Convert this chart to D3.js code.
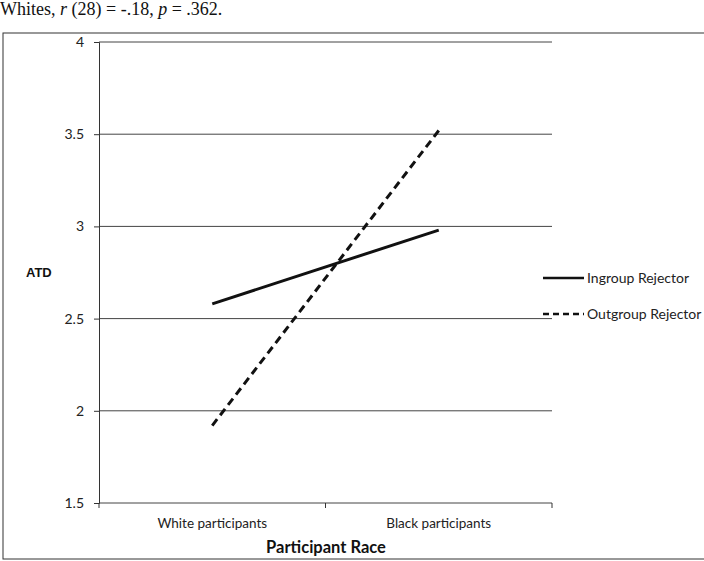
<!DOCTYPE html>
<html>
<head>
<meta charset="utf-8">
<script src="https://cdn.jsdelivr.net/npm/d3@7"></script>
<style>
  body { margin: 0; background: #fff; }
  svg { display: block; }
</style>
</head>
<body>
<div id="chart"></div>
<script>
// chart data
const categories = ["White participants", "Black participants"];
const seriesNames = ["Ingroup Rejector", "Outgroup Rejector"];
const ingroupValues = [2.58, 2.98];
const outgroupValues = [1.92, 3.52];
const yTicks = [1.5, 2, 2.5, 3, 3.5, 4];
const yTickLabels = ["1.5", "2", "2.5", "3", "3.5", "4"];

const W = 704, H = 561;
const svg = d3.select("#chart").append("svg")
    .attr("width", W).attr("height", H);

const font = "Lato, 'Open Sans', sans-serif";

// caption line from the page above the figure
const cap = svg.append("text")
    .attr("x", 0).attr("y", 15)
    .style("font-family", "'Liberation Serif', serif")
    .style("font-size", "18px")
    .attr("fill", "#111");
cap.append("tspan").text("Whites, ");
cap.append("tspan").style("font-style", "italic").text("r");
cap.append("tspan").text(" (28) = -.18, ");
cap.append("tspan").style("font-style", "italic").text("p");
cap.append("tspan").text(" = .362.");

// outer chart border
svg.append("rect")
    .attr("x", 3).attr("y", 33)
    .attr("width", W + 5).attr("height", 526)
    .attr("fill", "none").attr("stroke", "#333").attr("stroke-width", 1);

const plot = { left: 99, right: 552, top: 42, bottom: 503 };

const x = d3.scaleBand()
    .domain(categories)
    .range([plot.left, plot.right]);

const y = d3.scaleLinear()
    .domain([1.5, 4])
    .range([plot.bottom, plot.top]);

// gridlines
svg.append("g").selectAll("line")
    .data(yTicks)
    .join("line")
    .attr("x1", plot.left).attr("x2", plot.right)
    .attr("y1", d => y(d)).attr("y2", d => y(d))
    .attr("stroke", "#444").attr("stroke-width", 1);

// y axis
const yAxis = svg.append("g")
    .attr("transform", `translate(${plot.left},0)`)
    .call(d3.axisLeft(y).tickValues(yTicks)
        .tickFormat((d, i) => yTickLabels[i]).tickSize(5).tickPadding(10));
yAxis.select(".domain").attr("stroke", "#333");
yAxis.selectAll(".tick line").attr("stroke", "#333");
yAxis.selectAll("text")
    .style("font-family", font).style("font-size", "14px").attr("fill", "#222");

// x axis
const xAxis = svg.append("g")
    .attr("transform", `translate(0,${plot.bottom})`)
    .call(d3.axisBottom(x).tickSize(0).tickPadding(15));
xAxis.select(".domain").remove();
xAxis.selectAll("text")
    .style("font-family", font).style("font-size", "13.5px").attr("fill", "#222");

// x axis tick marks between categories
const bounds = [x(categories[0]), x(categories[1]), x(categories[1]) + x.bandwidth()];
svg.append("g").selectAll("line")
    .data(bounds)
    .join("line")
    .attr("x1", d => d).attr("x2", d => d)
    .attr("y1", plot.bottom).attr("y2", plot.bottom + 5)
    .attr("stroke", "#333");

// axis titles
svg.append("text")
    .attr("x", 326).attr("y", 553)
    .attr("text-anchor", "middle")
    .style("font-family", font).style("font-weight", "bold").style("font-size", "16.5px")
    .attr("fill", "#111")
    .text("Participant Race");

svg.append("text")
    .attr("x", 26).attr("y", 277)
    .style("font-family", "'Liberation Sans', Arial, sans-serif")
    .style("font-weight", "bold").style("font-size", "13px")
    .attr("fill", "#111")
    .text("ATD");

// series lines
const series = [
    { name: seriesNames[0], values: ingroupValues, dash: null },
    { name: seriesNames[1], values: outgroupValues, dash: "8,5" }
];

const line = d3.line()
    .x((d, i) => x(categories[i]) + x.bandwidth() / 2)
    .y(d => y(d));

svg.append("g").selectAll("path")
    .data(series)
    .join("path")
    .attr("d", d => line(d.values))
    .attr("fill", "none")
    .attr("stroke", "#111")
    .attr("stroke-width", 3)
    .attr("stroke-dasharray", d => d.dash);

// legend
const legend = svg.append("g")
    .attr("transform", "translate(543,278)");
const items = legend.selectAll("g")
    .data(series)
    .join("g")
    .attr("transform", (d, i) => `translate(0,${i * 36})`);
items.append("line")
    .attr("x1", 0).attr("x2", 41)
    .attr("stroke", "#111").attr("stroke-width", 2.5)
    .attr("stroke-dasharray", d => d.dash ? "6,4" : null);
items.append("text")
    .attr("x", 44).attr("y", 5)
    .style("font-family", font).style("font-size", "14px")
    .attr("fill", "#222")
    .text(d => d.name);
</script>
</body>
</html>
